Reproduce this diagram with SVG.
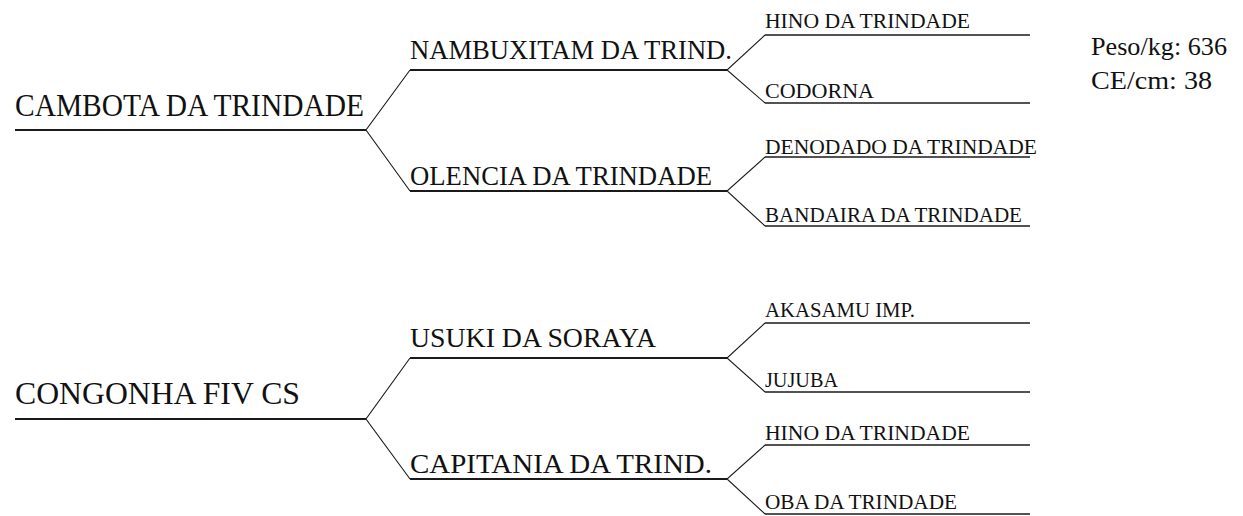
<svg xmlns="http://www.w3.org/2000/svg" width="1243" height="516" viewBox="0 0 1243 516">
<style>
text{fill:#111}
.g1{font-size:31px}
.g2{font-size:28px}
.g3{font-size:20px}
.info{font-size:26px}
.base{stroke:#1a1a1a;stroke-width:1.8;fill:none}
.base3{stroke:#1a1a1a;stroke-width:1.5;fill:none}
.conn{stroke:#1a1a1a;stroke-width:1.1;fill:none}
</style>
<rect width="1243" height="516" fill="#fff"/>
<g id="connectors">
<polyline class="conn" points="410,70 366,130 410,191"/>
<polyline class="conn" points="765,35 727,70 765,103"/>
<polyline class="conn" points="765,157 727,191 765,226"/>
<polyline class="conn" points="410,358 366,419 410,479"/>
<polyline class="conn" points="765,323 727,358 765,392"/>
<polyline class="conn" points="765,445 727,479 765,514"/>
</g>
<g font-family="'Liberation Serif', 'Times New Roman', serif">
<g id="n-cambota"><line class="base" x1="15" y1="130" x2="366" y2="130"/><text class="g1" x="15" y="116" textLength="349" lengthAdjust="spacingAndGlyphs">CAMBOTA DA TRINDADE</text></g>
<g id="n-nambuxitam"><line class="base" x1="410" y1="70" x2="727" y2="70"/><text class="g2" x="410" y="59" textLength="322" lengthAdjust="spacingAndGlyphs">NAMBUXITAM DA TRIND.</text></g>
<g id="n-olencia"><line class="base" x1="410" y1="191" x2="727" y2="191"/><text class="g2" x="410" y="185" textLength="302" lengthAdjust="spacingAndGlyphs">OLENCIA DA TRINDADE</text></g>
<g id="n-hino1"><line class="base3" x1="765" y1="35" x2="1030" y2="35"/><text class="g3" x="765" y="28" textLength="205" lengthAdjust="spacingAndGlyphs">HINO DA TRINDADE</text></g>
<g id="n-codorna"><line class="base3" x1="765" y1="103" x2="1030" y2="103"/><text class="g3" x="765" y="97.5" textLength="109" lengthAdjust="spacingAndGlyphs">CODORNA</text></g>
<g id="n-denodado"><line class="base3" x1="765" y1="157" x2="1030" y2="157"/><text class="g3" x="765" y="153.5" textLength="272" lengthAdjust="spacingAndGlyphs">DENODADO DA TRINDADE</text></g>
<g id="n-bandaira"><line class="base3" x1="765" y1="226" x2="1030" y2="226"/><text class="g3" x="765" y="221.5" textLength="257" lengthAdjust="spacingAndGlyphs">BANDAIRA DA TRINDADE</text></g>
<g id="n-info"><text class="info" x="1091" y="54.5" textLength="136" lengthAdjust="spacingAndGlyphs">Peso/kg: 636</text><text class="info" x="1091" y="88.5" textLength="121" lengthAdjust="spacingAndGlyphs">CE/cm: 38</text></g>
<g id="n-congonha"><line class="base" x1="15" y1="419" x2="366" y2="419"/><text class="g1" x="15" y="404" textLength="285" lengthAdjust="spacingAndGlyphs">CONGONHA FIV CS</text></g>
<g id="n-usuki"><line class="base" x1="410" y1="358" x2="727" y2="358"/><text class="g2" x="410" y="347" textLength="246" lengthAdjust="spacingAndGlyphs">USUKI DA SORAYA</text></g>
<g id="n-capitania"><line class="base" x1="410" y1="479" x2="727" y2="479"/><text class="g2" x="410" y="473" textLength="302" lengthAdjust="spacingAndGlyphs">CAPITANIA DA TRIND.</text></g>
<g id="n-akasamu"><line class="base3" x1="765" y1="323" x2="1030" y2="323"/><text class="g3" x="765" y="317" textLength="150" lengthAdjust="spacingAndGlyphs">AKASAMU IMP.</text></g>
<g id="n-jujuba"><line class="base3" x1="765" y1="392" x2="1030" y2="392"/><text class="g3" x="765" y="386.5" textLength="73" lengthAdjust="spacingAndGlyphs">JUJUBA</text></g>
<g id="n-hino2"><line class="base3" x1="765" y1="445" x2="1030" y2="445"/><text class="g3" x="765" y="440" textLength="205" lengthAdjust="spacingAndGlyphs">HINO DA TRINDADE</text></g>
<g id="n-oba"><line class="base3" x1="765" y1="514" x2="1030" y2="514"/><text class="g3" x="765" y="508.5" textLength="192" lengthAdjust="spacingAndGlyphs">OBA DA TRINDADE</text></g>
</g>
</svg>
